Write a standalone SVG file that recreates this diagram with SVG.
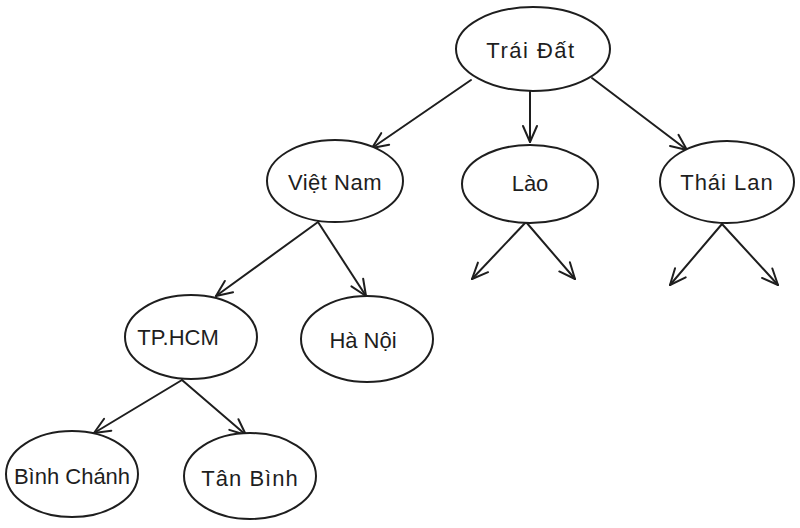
<svg xmlns="http://www.w3.org/2000/svg" width="800" height="528" viewBox="0 0 800 528">
<style>
.n ellipse{fill:#fff;stroke:#1e1e1e;stroke-width:2}
.n text{font-family:"Liberation Sans","DejaVu Sans",sans-serif;font-size:22px;fill:#1e1e1e;text-anchor:middle;dominant-baseline:central}
#edges path{fill:none;stroke:#1e1e1e;stroke-width:2;stroke-linecap:round;marker-end:url(#ah)}
</style>
<defs>
<marker id="ah" viewBox="0 0 20 20" refX="18" refY="10" markerWidth="20" markerHeight="20" markerUnits="userSpaceOnUse" orient="auto">
<path d="M2,3 L18,10 L2,17" fill="none" stroke="#1e1e1e" stroke-width="2" stroke-linecap="round" stroke-linejoin="round"/>
</marker>
</defs>
<rect width="800" height="528" fill="#fff"/>
<g id="edges">
<path d="M471,80 L372,148"/>
<path d="M530,90 L530,142"/>
<path d="M592,78 L687,150"/>
<path d="M318,222 L216,296"/>
<path d="M318,222 L366,296"/>
<path d="M526,222 L472,279"/>
<path d="M526,222 L575,279"/>
<path d="M722,224 L670,285"/>
<path d="M722,224 L778,285"/>
<path d="M182,380 L94,433"/>
<path d="M182,380 L246,435"/>
</g>
<g id="trai-dat" class="n"><ellipse cx="533" cy="49" rx="77" ry="42"/><text x="531" y="50" letter-spacing="1.5">Trái Đất</text></g>
<g id="viet-nam" class="n"><ellipse cx="335" cy="181" rx="68" ry="41"/><text x="335" y="182" letter-spacing="0.5">Việt Nam</text></g>
<g id="lao" class="n"><ellipse cx="530" cy="184" rx="68" ry="39"/><text x="530" y="183">Lào</text></g>
<g id="thai-lan" class="n"><ellipse cx="727" cy="182" rx="67" ry="41"/><text x="727" y="182" letter-spacing="1">Thái Lan</text></g>
<g id="tp-hcm" class="n"><ellipse cx="191" cy="337" rx="66" ry="42"/><text x="178" y="337">TP.HCM</text></g>
<g id="ha-noi" class="n"><ellipse cx="367" cy="339" rx="66" ry="43"/><text x="363" y="340">Hà Nội</text></g>
<g id="binh-chanh" class="n"><ellipse cx="72" cy="474" rx="66" ry="43"/><text x="72" y="476">Bình Chánh</text></g>
<g id="tan-binh" class="n"><ellipse cx="250" cy="476" rx="66" ry="43"/><text x="250" y="478" letter-spacing="1">Tân Bình</text></g>
</svg>
